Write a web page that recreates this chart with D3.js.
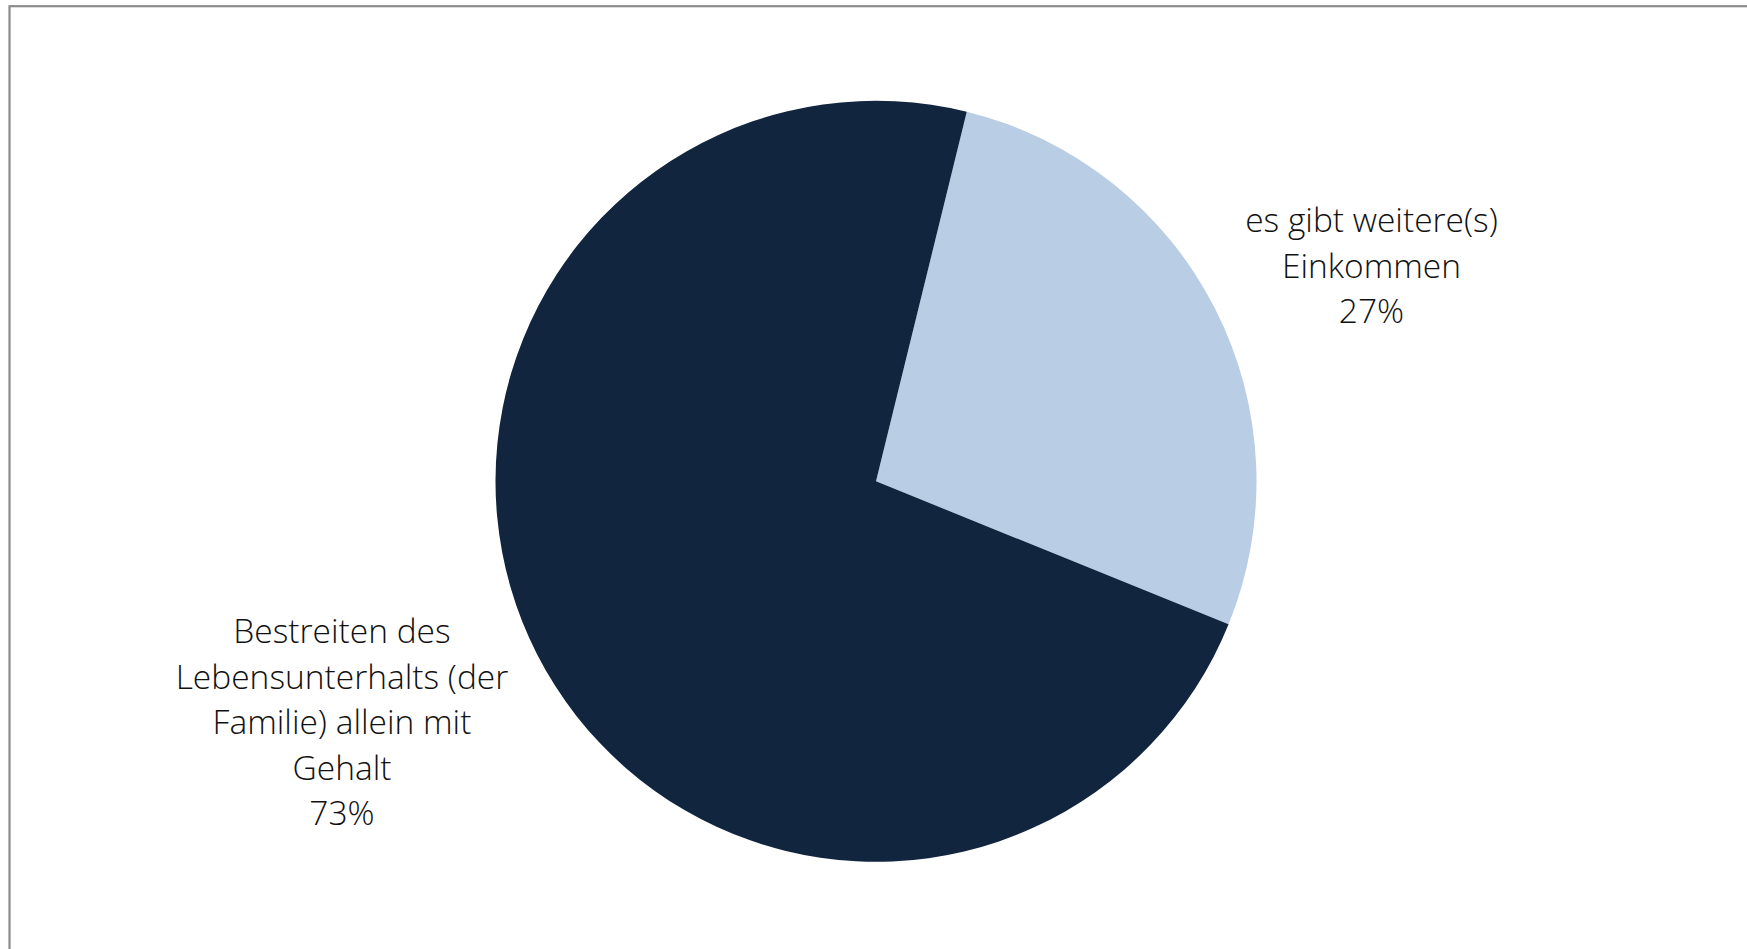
<!DOCTYPE html>
<html>
<head>
<meta charset="utf-8">
<script src="https://cdn.jsdelivr.net/npm/d3@7"></script>
<style>
html,body{margin:0;padding:0;background:#fff;overflow:hidden;}
svg{display:block;}
</style>
</head>
<body>
<svg id="chart" width="1747" height="949"></svg>
<script>
// Data
const categories = ["es gibt weitere(s) Einkommen", "Bestreiten des Lebensunterhalts (der Familie) allein mit Gehalt"];
const values = [27.3, 72.7];
const percentLabels = ["27%", "73%"];
const labelLines = [
  ["es gibt weitere(s)", "Einkommen"],
  ["Bestreiten des", "Lebensunterhalts (der", "Familie) allein mit", "Gehalt"]
];
const colors = ["#B9CDE4", "#12253F"];

const svg = d3.select("#chart");
const W = 1747, H = 949;

// chart border (extends past right/bottom edge)
svg.append("rect")
  .attr("x", 9.5).attr("y", 6.2)
  .attr("width", W + 20).attr("height", H + 20)
  .attr("fill", "none")
  .attr("stroke", "#8c8c8c")
  .attr("stroke-width", 2.2);

const cx = 876, cy = 481.3, r = 380.5;
const startDeg = 13.8;

const pie = d3.pie()
  .value(d => d)
  .sort(null)
  .startAngle(startDeg * Math.PI / 180)
  .endAngle(startDeg * Math.PI / 180 + 2 * Math.PI);

const arc = d3.arc().innerRadius(0).outerRadius(r);

const g = svg.append("g").attr("transform", `translate(${cx},${cy})`);
g.selectAll("path")
  .data(pie(values))
  .join("path")
  .attr("d", arc)
  .attr("fill", (d, i) => colors[i]);

// labels
const labelPos = [
  {x: 1371.5, y: 232},
  {x: 342, y: 643}
];
const lineH = 45.6;
labelLines.forEach((lines, i) => {
  const t = svg.append("text")
    .attr("x", labelPos[i].x)
    .attr("y", labelPos[i].y)
    .attr("text-anchor", "middle")
    .attr("font-family", "'Open Sans', Lato, sans-serif")
    .attr("font-weight", 300)
    .attr("font-size", 33.5)
    .attr("fill", "#111");
  lines.concat([percentLabels[i]]).forEach((ln, k) => {
    t.append("tspan")
      .attr("x", labelPos[i].x)
      .attr("y", labelPos[i].y + k * lineH)
      .text(ln);
  });
});
</script>
</body>
</html>
